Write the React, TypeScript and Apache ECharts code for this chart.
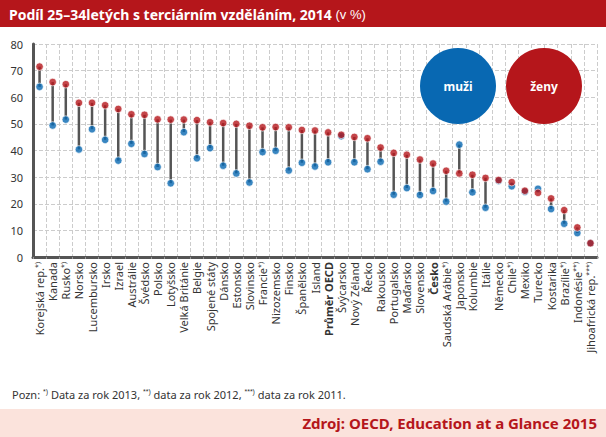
import React, { useEffect, useRef } from "react";
import * as echarts from "echarts";

const categories = ["Korejská rep.|*)", "Kanada", "Rusko|*)", "Norsko", "Lucembursko", "Irsko", "Izrael", "Austrálie", "Švédsko", "Polsko", "Lotyšsko", "Velká Británie", "Belgie", "Spojené státy", "Dánsko", "Estonsko", "Slovinsko", "Francie|*)", "Nizozemsko", "Finsko", "Španělsko", "Island", "Průměr OECD", "Švýcarsko", "Nový Zéland", "Řecko", "Rakousko", "Portugalsko", "Maďarsko", "Slovensko", "Česko", "Saudská Arábie|*)", "Japonsko", "Kolumbie", "Itálie", "Německo", "Chile|*)", "Mexiko", "Turecko", "Kostarika", "Brazílie|*)", "Indonésie|**)", "Jihoafrická rep.|***)"];
const women = [71.5, 65.7, 64.9, 57.9, 57.9, 57, 55.6, 53.6, 53.4, 51.7, 51.6, 51.6, 51.4, 50.6, 50.3, 50, 49.3, 48.7, 48.8, 48.7, 47.7, 47.5, 46.8, 45.9, 45.1, 44.6, 41.1, 39.1, 38.4, 36.6, 35.1, 32.4, 31.4, 30.9, 29.7, 28.9, 28.1, 24.9, 24.1, 22, 17.6, 11.1, 5.2];
const men = [63.9, 49.4, 51.6, 40.4, 48, 44, 36.2, 42.5, 38.7, 33.8, 27.7, 46.9, 37.1, 40.9, 34.3, 31.4, 28, 39.4, 39.9, 32.5, 35.4, 34, 35.6, 45.4, 35.6, 33, 35.8, 23.4, 25.9, 23.3, 24.8, 20.8, 42.2, 24.3, 18.5, 28.6, 26.6, 24.5, 25.6, 18, 12.5, 9, 5.2];
const yTicks = [0, 10, 20, 30, 40, 50, 60, 70, 80];
const bold = ["Průměr OECD", "Česko"];
const FONT = "'Noto Sans', sans-serif";

export default function App() {
  const ref = useRef<HTMLDivElement>(null);
  useEffect(() => {
    const chart = echarts.init(ref.current!, null, { renderer: "svg" });
    const range = categories.map((_, i) => [i, men[i], women[i]]);
    chart.setOption({
      animation: false,
      textStyle: { fontFamily: FONT },
      graphic: [
        { type: "rect", shape: { x: 0, y: 0, width: 606, height: 27 }, style: { fill: "#b5161b" } },
        { type: "text", x: 9, y: 14, style: { text: "Podíl 25–34letých s terciárním vzděláním, 2014 {n|(v %)}", fill: "#fff", font: `bold 14px ${FONT}`, textVerticalAlign: "middle", rich: { n: { fontWeight: "normal", fontSize: 13, fill: "#fff" } } } },
        { type: "text", x: 12, y: 394, style: { text: "Pozn: {s|*)} Data za rok 2013, {s|**)} data za rok 2012, {s|***)} data za rok 2011.", fill: "#333", font: `11px ${FONT}`, textVerticalAlign: "middle", rich: { s: { fontSize: 7, verticalAlign: "top", fill: "#333", padding: [0, 0, 6, 0] } } } },
        { type: "rect", shape: { x: 0, y: 409, width: 606, height: 28 }, style: { fill: "#fbe3dc" } },
        { type: "text", x: 597, y: 423, style: { text: "Zdroj: OECD, Education at a Glance 2015", fill: "#b5161b", font: `bold 15px ${FONT}`, textAlign: "right", textVerticalAlign: "middle" } },
        { type: "circle", shape: { cx: 458, cy: 86, r: 38 }, style: { fill: "#0868b2" }, z: 100 },
        { type: "text", x: 458, y: 86, style: { text: "muži", fill: "#fff", font: `bold 12px ${FONT}`, textAlign: "center", textVerticalAlign: "middle" }, z: 101 },
        { type: "circle", shape: { cx: 544, cy: 86, r: 38 }, style: { fill: "#b5161b" }, z: 100 },
        { type: "text", x: 544, y: 86, style: { text: "ženy", fill: "#fff", font: `bold 12px ${FONT}`, textAlign: "center", textVerticalAlign: "middle" }, z: 101 },
      ],
      grid: { left: 33, right: 9, top: 44, bottom: 180 },
      xAxis: {
        type: "category",
        data: categories,
        boundaryGap: true,
        axisLine: { lineStyle: { color: "#555", width: 3 } },
        axisTick: { show: true, length: 2, lineStyle: { color: "#999" } },
        splitLine: { show: true, lineStyle: { type: "dashed", color: "#ccc" } },
        axisLabel: {
          interval: 0, rotate: 90, color: "#333", fontSize: 11, margin: 5,
          formatter: (v: string) => {
            const [n, s] = v.split("|");
            const nm = bold.includes(n) ? `{b|${n}}` : n;
            return s ? `${nm}{s|${s}}` : nm;
          },
          rich: { b: { fontWeight: "bold", fontSize: 11, color: "#333" }, s: { fontSize: 7, color: "#333", verticalAlign: "top" } },
        },
      },
      yAxis: {
        type: "value", min: 0, max: 80, interval: 10,
        axisLine: { show: true, lineStyle: { color: "#555", width: 3 } },
        axisTick: { show: false },
        splitLine: { lineStyle: { type: "dashed", color: "#ccc" } },
        axisLabel: { color: "#333", fontSize: 11, margin: 10, formatter: (v: number) => (yTicks.includes(v) ? String(v) : "") },
      },
      series: [
        {
          type: "custom",
          data: range,
          renderItem: (params: any, api: any) => {
            const a = api.coord([api.value(0), api.value(1)]);
            const b = api.coord([api.value(0), api.value(2)]);
            return { type: "line", shape: { x1: a[0], y1: a[1], x2: b[0], y2: b[1] }, style: { stroke: "#555", lineWidth: 2.5 } };
          },
          z: 1,
        },
        { type: "scatter", data: men.map((v, i) => [i, v]), symbolSize: 7.5, itemStyle: { color: "#0868b2", borderColor: "#fff", borderWidth: 0.8 }, z: 3 },
        { type: "scatter", data: women.map((v, i) => [i, v]), symbolSize: 7.5, itemStyle: { color: "#b5161b", borderColor: "#fff", borderWidth: 0.8 }, z: 4 },
      ],
    });
    return () => chart.dispose();
  }, []);
  return <div ref={ref} style={{ width: 606, height: 437, position: "absolute", left: 0, top: 0, background: "#fff" }} />;
}
